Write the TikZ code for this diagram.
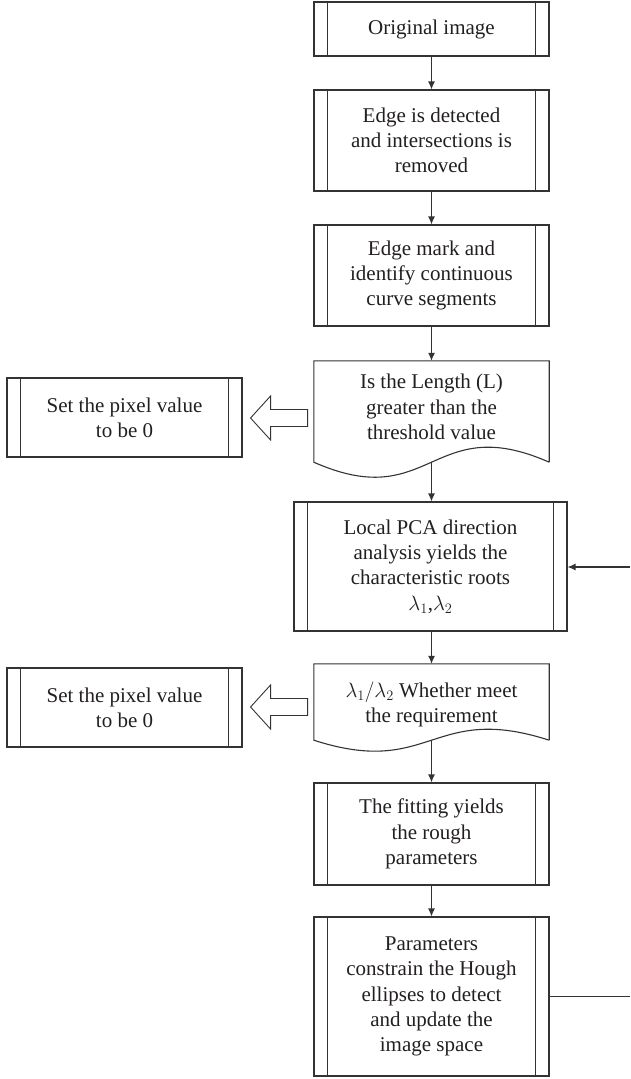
\documentclass[tikz,border=0pt]{standalone}
\usepackage{fontspec}
\setmainfont{Liberation Serif}
\usetikzlibrary{arrows.meta,calc}
\definecolor{ln}{HTML}{333333}
\definecolor{tx}{HTML}{231F20}
\tikzset{
  x=1pt, y=-1pt,
  lbl/.style={inner sep=0pt, align=center, text=tx, font=\fontsize{21}{25.3}\selectfont},
  pp/.style={lbl, draw=ln, line width=1.1pt, minimum width=235pt,
    path picture={
      \draw[ln, line width=1.1pt]
        ([xshift=13.5pt]path picture bounding box.north west) -- ([xshift=13.5pt]path picture bounding box.south west)
        ([xshift=-13.5pt]path picture bounding box.north east) -- ([xshift=-13.5pt]path picture bounding box.south east);
    }},
  docbox/.style={inner sep=0pt, minimum width=235pt},
  docline/.style={draw=ln, line width=1.1pt},
  flow/.style={draw=ln, line width=1.1pt, -{Latex[length=8pt,width=7pt]}},
  plain/.style={draw=ln, line width=1.1pt},
  hollow/.style={draw=ln, line width=0.9pt, line join=miter},
}
\begin{document}
\begin{tikzpicture}
\useasboundingbox (0,0) rectangle (630,1079);

% main column
\node[pp, minimum height=54pt] (b1) at (431.5,29) {Original image};
\node[pp, minimum height=101pt] (b2) at (431.5,140.5) {Edge is detected\\and intersections is\\removed};
\node[pp, minimum height=101pt] (b3) at (431.5,275.5) {Edge mark and\\identify continuous\\curve segments};

% document 1
\node[docbox, minimum height=101pt] (d1) at (431.5,411.5) {};
\draw[docline] (d1.south east) -- (d1.north east) -- (d1.north west) -- (d1.south west)
  .. controls ($(d1.south)+(0,52)$) and ($(d1.south)+(0,-52)$) .. (d1.south east);
\node[lbl] (d1t) at (431.5,407) {Is the Length (L)\\greater than the\\threshold value};

\node[pp, minimum width=273pt, minimum height=129pt] (pca) at (430.5,566.5)
  {Local PCA direction\\analysis yields the\\characteristic roots\\$\lambda_1$,$\lambda_2$};

% document 2
\node[docbox, minimum height=76pt] (d2) at (431.5,702) {};
\draw[docline] (d2.south east) -- (d2.north east) -- (d2.north west) -- (d2.south west)
  .. controls ($(d2.south)+(0,38)$) and ($(d2.south)+(0,-38)$) .. (d2.south east);
\node[lbl] (d2t) at (431.5,704.5) {$\lambda_1/\lambda_2$ Whether meet\\the requirement};

\node[pp, minimum height=102pt] (fit) at (431.5,834) {The fitting yields\\the rough\\parameters};
\node[pp, minimum height=159pt] (fin) at (431.5,996.5) {Parameters\\constrain the Hough\\ellipses to detect\\and update the\\image space};

% side boxes
\node[pp, minimum height=79pt] (s1) at (124.5,417.5) {Set the pixel value\\to be 0};
\node[pp, minimum height=79pt] (s2) at (124.5,707.5) {Set the pixel value\\to be 0};

% connectors
\draw[flow] (b1) -- (b2);
\draw[flow] (b2) -- (b3);
\draw[flow] (b3) -- (d1.north);
\draw[flow] (d1.south) -- (d1.south |- pca.north);
\draw[flow] (d1.south |- pca.south) -- (d2.north);
\draw[flow] (d2.south) -- (fit.north);
\draw[flow] (fit) -- (fin);

% feedback
\coordinate (fbR) at (630,996.5);
\coordinate (fbT) at (630,567);
\draw[plain] (fin.east) -- (fbR);
\draw[flow] (fbT) -- (fbT -| pca.east);

% hollow arrows
\draw[hollow] ($(s1.east)+(8,0.5)$) -- ++(20,-22) -- ++(0,13.5) -- ++(37,0) -- ++(0,17)
  -- ++(-37,0) -- ++(0,13.5) -- cycle;
\draw[hollow] ($(s2.east)+(8,-0.5)$) -- ++(20,-22) -- ++(0,13.5) -- ++(37,0) -- ++(0,17)
  -- ++(-37,0) -- ++(0,13.5) -- cycle;
\end{tikzpicture}
\end{document}
